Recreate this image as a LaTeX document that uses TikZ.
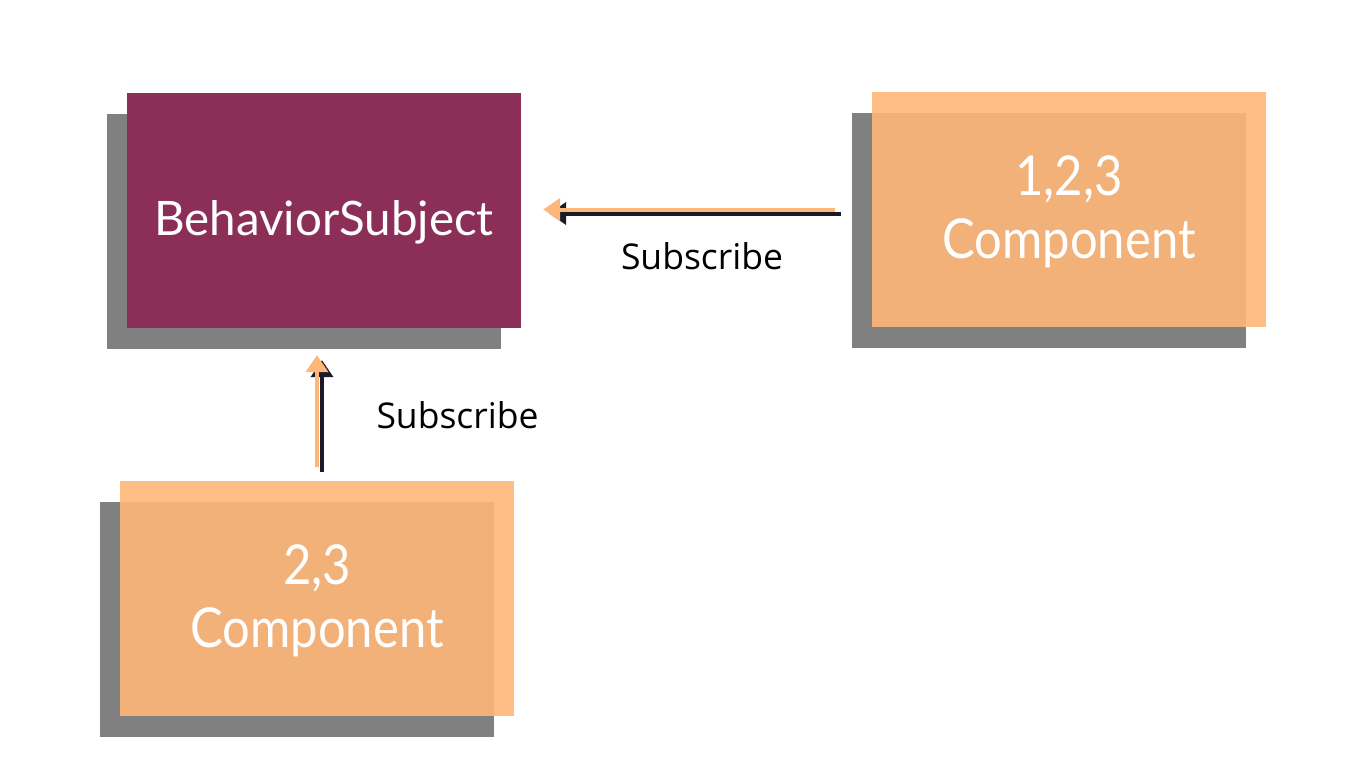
\documentclass[tikz,border=0pt]{standalone}
\usepackage{fontspec}
\setmainfont{Lato}
\newfontfamily\compfont{Lato}[FakeStretch=0.89]
\newfontfamily\labelfont{Open Sans}
\usetikzlibrary{arrows.meta,shadows}
\definecolor{bspurple}{RGB}{139,47,88}
\definecolor{comporange}{RGB}{255,183,121}
\definecolor{shadowgray}{RGB}{128,128,128}
\definecolor{arrowdark}{RGB}{26,26,40}
\begin{document}
\begin{tikzpicture}[x=1pt,y=-1pt,
  box/.style={minimum width=394pt, minimum height=235pt, inner sep=0pt, text=white,
    drop shadow={shadow xshift=-20pt, shadow yshift=-21pt, fill=shadowgray, opacity=1}},
  subjectbox/.style={box, fill=bspurple, font=\fontsize{47.5}{55}\selectfont, text height=49pt, text depth=0pt},
  compbox/.style={box, fill=comporange, fill opacity=0.9, text opacity=1, font=\compfont\fontsize{55}{63}\selectfont, text depth=0pt},
  flow/.style={line width=4pt, -{Triangle[length=17pt,width=22pt]}},
  flowshadow/.style={flow, draw=arrowdark},
  floworange/.style={flow, draw=comporange},
  sublabel/.style={font=\labelfont\fontsize{35.5}{40}\selectfont, text=black, anchor=base, inner sep=0pt}
]
\fill[white] (0,0) rectangle (1366,769);
\useasboundingbox (0,0) rectangle (1366,769);

\node[subjectbox] (bs) at (324,210.5) {BehaviorSubject};
\node[compbox, text height=97pt] (c1) at (1069,209.5) {\begin{tabular}[b]{@{}c@{}}1,2,3\\Component\end{tabular}};
\node[compbox, text height=98pt] (c2) at (317,598) {\begin{tabular}[b]{@{}c@{}}2,3\\Component\end{tabular}};

\draw[flowshadow, transform canvas={xshift=6pt,yshift=-4pt}, shorten <=37pt, shorten >=22pt] (c1.west) -- (bs.east |- c1.west);
\draw[floworange, shorten <=37pt, shorten >=22pt] (c1.west) -- (bs.east |- c1.west);

\draw[flowshadow, transform canvas={xshift=5pt,yshift=-5pt}, shorten <=13pt, shorten >=27pt] (c2.north) -- (c2.north |- bs.south);
\draw[floworange, shorten <=13pt, shorten >=27pt] (c2.north) -- (c2.north |- bs.south);

\node[sublabel] (lab1) at (702,269) {Subscribe};
\node[sublabel] (lab2) at (457.5,428) {Subscribe};
\end{tikzpicture}
\end{document}
